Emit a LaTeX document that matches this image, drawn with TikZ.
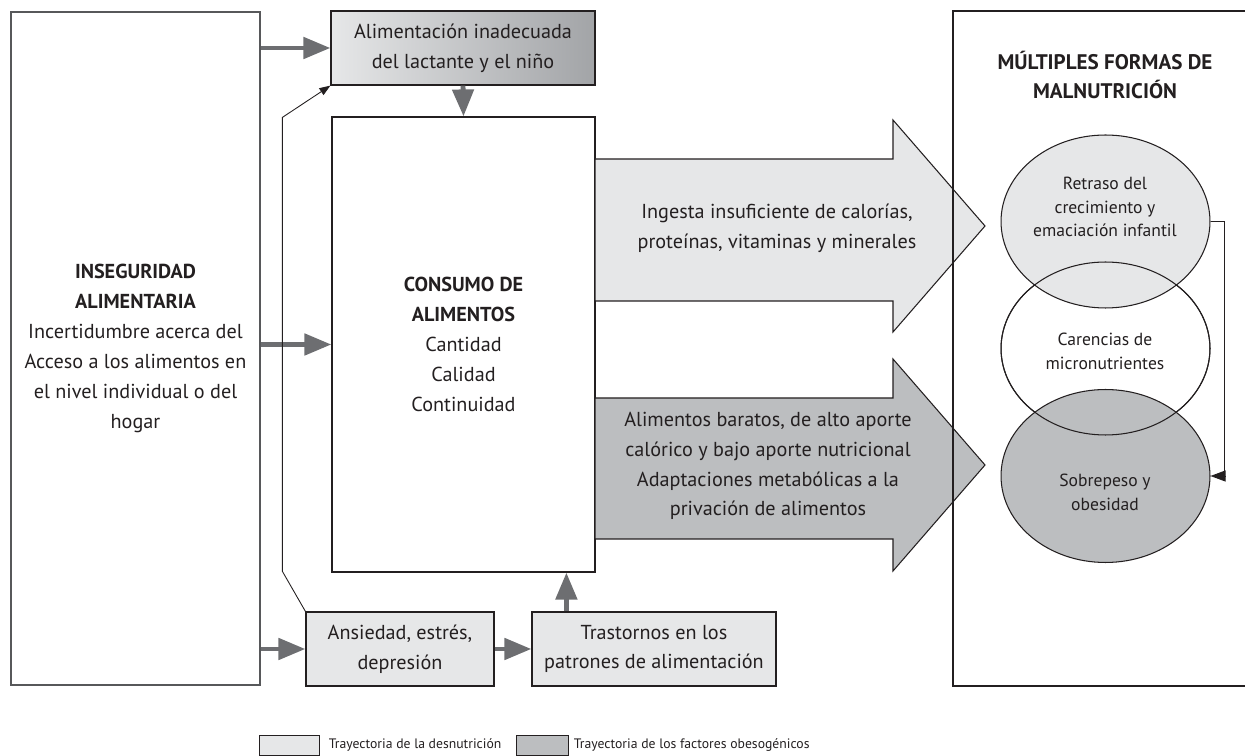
\documentclass[tikz,border=0pt]{standalone}
\usepackage{fontspec}
\setmainfont{PT Sans}
\usetikzlibrary{shapes.geometric,arrows.meta,positioning}

\definecolor{grisclaro}{HTML}{E6E7E8}
\definecolor{grisoscuro}{HTML}{BCBEC0}
\definecolor{grisdegradado}{HTML}{A2A4A7}
\definecolor{grisflecha}{HTML}{6D6E71}
\definecolor{texto}{HTML}{231F20}

\tikzset{
  caja/.style={draw=texto, line width=0.7pt, inner sep=0pt, align=center, text=texto,
    font=\fontsize{11.5}{17}\selectfont},
  elipse/.style={draw=texto, ellipse, line width=0.6pt, inner sep=0pt, minimum width=4.18cm,
    minimum height=3.46cm},
  rotulo/.style={align=center, text=texto, inner sep=0pt, font=\fontsize{11.5}{17}\selectfont},
  rotulochico/.style={align=center, text=texto, inner sep=0pt, font=\fontsize{10}{13.5}\selectfont},
  leyenda/.style={inner sep=0pt, text=texto, font=\fontsize{7.8}{10}\selectfont},
  flecha/.style={draw=grisflecha, line width=2.8pt, -{Triangle[length=0.54cm,width=0.42cm]}},
  fina/.style={draw=texto, line width=0.5pt},
  gruesa/.style={draw=texto, line width=0.6pt},
}

\begin{document}
\begin{tikzpicture}[x=0.02cm, y=-0.02cm] % 1 unidad = 1 pixel
    \useasboundingbox (0,0) rectangle (1245,756);

    % === Cajas principales ===
    \node[caja, draw=grisflecha!80!black, line width=1.1pt, minimum width=4.98cm, minimum height=13.46cm] (inseguridad) at (135.5,348.5)
        {\textbf{INSEGURIDAD}\\\textbf{ALIMENTARIA}\\Incertidumbre acerca del\\Acceso a los alimentos en\\el nivel individual o del\\hogar};
    \node[caja, left color=grisclaro, right color=grisdegradado, minimum width=5.28cm, minimum height=1.48cm] (lactante) at (463,48)
        {Alimentación inadecuada\\del lactante y el niño};
    \node[caja, minimum width=5.26cm, minimum height=9.10cm] (consumo) at (463.5,344.5)
        {\textbf{CONSUMO DE}\\\textbf{ALIMENTOS}\\Cantidad\\Calidad\\Continuidad};
    \node[caja, fill=grisclaro, minimum width=3.76cm, minimum height=1.48cm] (ansiedad) at (400,649)
        {Ansiedad, estrés,\\depresión};
    \node[caja, fill=grisclaro, minimum width=4.88cm, minimum height=1.48cm] (trastornos) at (654,649)
        {Trastornos en los\\patrones de alimentación};

    % === Flechas grises ===
    \draw[flecha] (inseguridad.east |- lactante) -- (lactante.west);
    \draw[flecha] (inseguridad.east |- consumo) -- (consumo.west);
    \draw[flecha] (inseguridad.east |- ansiedad) -- (ansiedad.west);
    \draw[flecha] (ansiedad) -- (trastornos);
    \draw[flecha] (lactante.south) -- (consumo.north);
    \draw[flecha] ([xshift=0.7cm]trastornos.north west) coordinate (t1) -- (t1 |- consumo.south);

    % linea fina: ansiedad -> alimentacion del lactante
    \draw[fina, -{Triangle[length=0.22cm,width=0.16cm]}] (ansiedad.north west) -- ++(-23,-40) -- ++(0,-454) -- (lactante.south west);

    % === Flechas anchas hacia la malnutricion ===
    \draw[gruesa, fill=grisclaro] (595,159) -- (893,159) -- (893,120) -- (985,226) -- (893,332) -- (893,301) -- (595,301) -- cycle;
    \draw[gruesa, fill=grisoscuro] (595,398) -- (893,398) -- (893,359) -- (985,465) -- (893,571) -- (893,539) -- (595,539) -- cycle;
    \node[rotulo] (ingesta) at (777,228) {Ingesta insuficiente de calorías,\\proteínas, vitaminas y minerales};
    \node[rotulo] (baratos) at (768,466) {Alimentos baratos, de alto aporte\\calórico y bajo aporte nutricional\\Adaptaciones metabólicas a la\\privación de alimentos};

    % === Multiples formas de malnutricion ===
    \draw[gruesa] (1245,11) -- (953,11) -- (953,686) -- (1245,686);
    \node[rotulo, font=\bfseries\fontsize{12}{17}\selectfont] (titulo) at (1105,75) {MÚLTIPLES FORMAS DE\\MALNUTRICIÓN};

    \node[elipse, fill=white] (carencias) at (1105.5,348.5) {};
    \node[elipse, fill=grisclaro] (retraso) at (1105.5,221.5) {};
    \node[elipse, fill=grisoscuro] (sobrepeso) at (1105.5,476) {};
    \node[elipse] at (carencias) {}; % contorno encima

    \node[rotulochico] (retrasotxt) at (1105,207) {Retraso del\\crecimiento y\\emaciación infantil};
    \node[rotulochico] (carenciastxt) at (1105,351) {Carencias de\\micronutrientes};
    \node[rotulochico] (sobrepesotxt) at (1105,492) {Sobrepeso y\\obesidad};

    \draw[fina, -{Triangle[length=0.3cm,width=0.22cm]}] (retraso.east) -- ++(14,0) |- (sobrepeso.east);

    % === Leyenda ===
    \node[draw=texto, line width=0.5pt, fill=grisclaro, minimum width=1.2cm, minimum height=0.4cm, inner sep=0pt] (leyclaro) at (289,745) {};
    \node[leyenda, right=0.18cm of leyclaro] (leyclarotxt) {Trayectoria de la desnutrición};
    \node[draw=texto, line width=0.5pt, fill=grisoscuro, minimum width=1.04cm, minimum height=0.4cm, inner sep=0pt] (leyoscuro) at (542,745) {};
    \node[leyenda, right=0.1cm of leyoscuro] (leyoscurotxt) {Trayectoria de los factores obesogénicos};
\end{tikzpicture}
\end{document}
